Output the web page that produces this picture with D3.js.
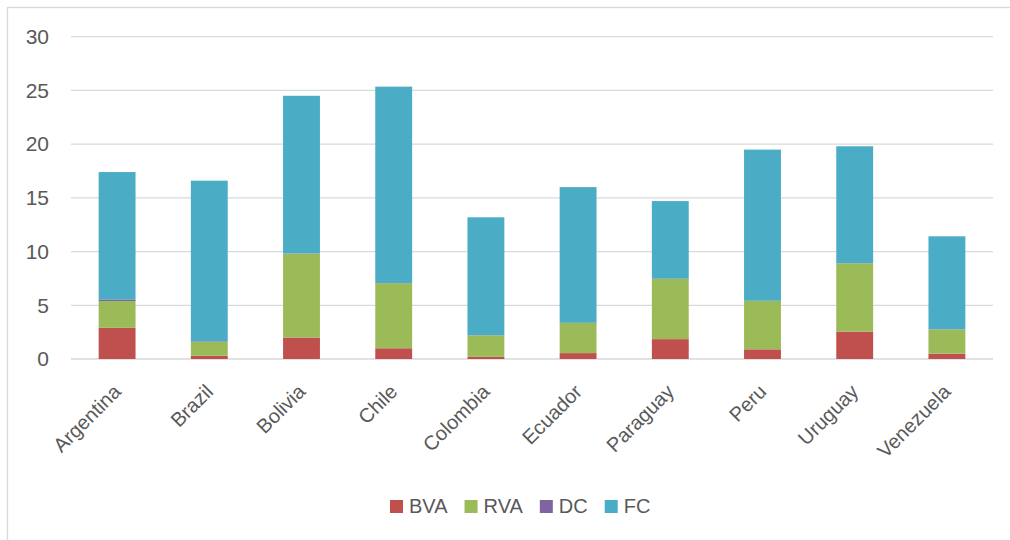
<!DOCTYPE html>
<html><head><meta charset="utf-8">
<script src="https://cdn.jsdelivr.net/npm/d3@7"></script>
<style>body{margin:0;background:#fff}svg{display:block}text{font-family:"Liberation Sans",Arial,sans-serif;fill:#595959}</style>
</head><body><svg id="c" width="1010" height="540"></svg>
<script>
const categories = ["Argentina","Brazil","Bolivia","Chile","Colombia","Ecuador","Paraguay","Peru","Uruguay","Venezuela"];
const BVA = [2.9, 0.3, 2.0, 1.0, 0.2, 0.55, 1.85, 0.9, 2.55, 0.5];
const RVA = [2.5, 1.3, 7.8, 6.05, 2.0, 2.8, 5.6, 4.5, 6.35, 2.25];
const DC  = [0.15, 0.05, 0.03, 0.02, 0.02, 0.02, 0.02, 0.02, 0.02, 0.02];
const FC  = [11.85, 14.95, 14.67, 18.28, 10.97, 12.63, 7.23, 14.07, 10.88, 8.65];
const seriesNames = ["BVA","RVA","DC","FC"];
const seriesColors = ["#C0504D","#9BBB59","#8064A2","#4BACC6"];
const yTicks = [0,5,10,15,20,25,30];

const svg = d3.select("#c");
svg.append("rect").attr("x",7.5).attr("y",7.5).attr("width",1020).attr("height",550)
  .attr("fill","none").attr("stroke","#D9D9D9").attr("stroke-width",1.3);

const mLeft = 71, mRight = 993, mTop = 36.7, mBottom = 359;
const x = d3.scaleBand().domain(categories).range([mLeft,mRight]).padding(0);
const y = d3.scaleLinear().domain([0,30]).range([mBottom,mTop]);

// gridlines
svg.append("g").selectAll("line").data(yTicks).join("line")
  .attr("x1",mLeft).attr("x2",mRight).attr("y1",d=>y(d)).attr("y2",d=>y(d))
  .attr("stroke","#D9D9D9").attr("stroke-width",1.3);

// y axis labels
const yAxis = d3.axisLeft(y).tickValues(yTicks).tickSize(0).tickPadding(0);
const ya = svg.append("g").attr("transform",`translate(49,0)`).call(yAxis);
ya.select(".domain").remove();
ya.selectAll("text").style("font-size","21px").attr("fill","#595959").attr("font-family","Liberation Sans, Arial, sans-serif");

// stacked data
const rows = categories.map((c,i)=>({cat:c,BVA:BVA[i],RVA:RVA[i],DC:DC[i],FC:FC[i]}));
const stack = d3.stack().keys(seriesNames)(rows);
const bw = x.bandwidth()*0.4;
svg.append("g").selectAll("g").data(stack).join("g")
  .attr("fill",(d,i)=>seriesColors[i])
  .selectAll("rect").data(d=>d).join("rect")
  .attr("x",d=>x(d.data.cat)+x.bandwidth()/2-bw/2)
  .attr("width",bw)
  .attr("y",d=>y(d[1]))
  .attr("height",d=>Math.max(0,y(d[0])-y(d[1])));

// x axis labels
const xAxis = d3.axisBottom(x).tickSize(0).tickPadding(0);
const xa = svg.append("g").attr("transform",`translate(0,${mBottom})`).call(xAxis);
xa.select(".domain").remove();
xa.selectAll("text")
  .style("font-size","20px").attr("fill","#595959").attr("font-family","Liberation Sans, Arial, sans-serif")
  .attr("text-anchor","end").attr("dy",null).attr("y",0)
  .attr("transform","translate(5,34) rotate(-45)");

// legend
const lg = svg.append("g").attr("transform","translate(390,513)");
let cx = 0;
seriesNames.forEach((n,i)=>{
  const g = lg.append("g").attr("transform",`translate(${cx},0)`);
  g.append("rect").attr("x",0).attr("y",-13).attr("width",13).attr("height",13).attr("fill",seriesColors[i]);
  const t = g.append("text").attr("x",19).attr("y",0).style("font-size","20px").text(n);
  cx += 19 + t.node().getComputedTextLength() + 17;
});
</script></body></html>
